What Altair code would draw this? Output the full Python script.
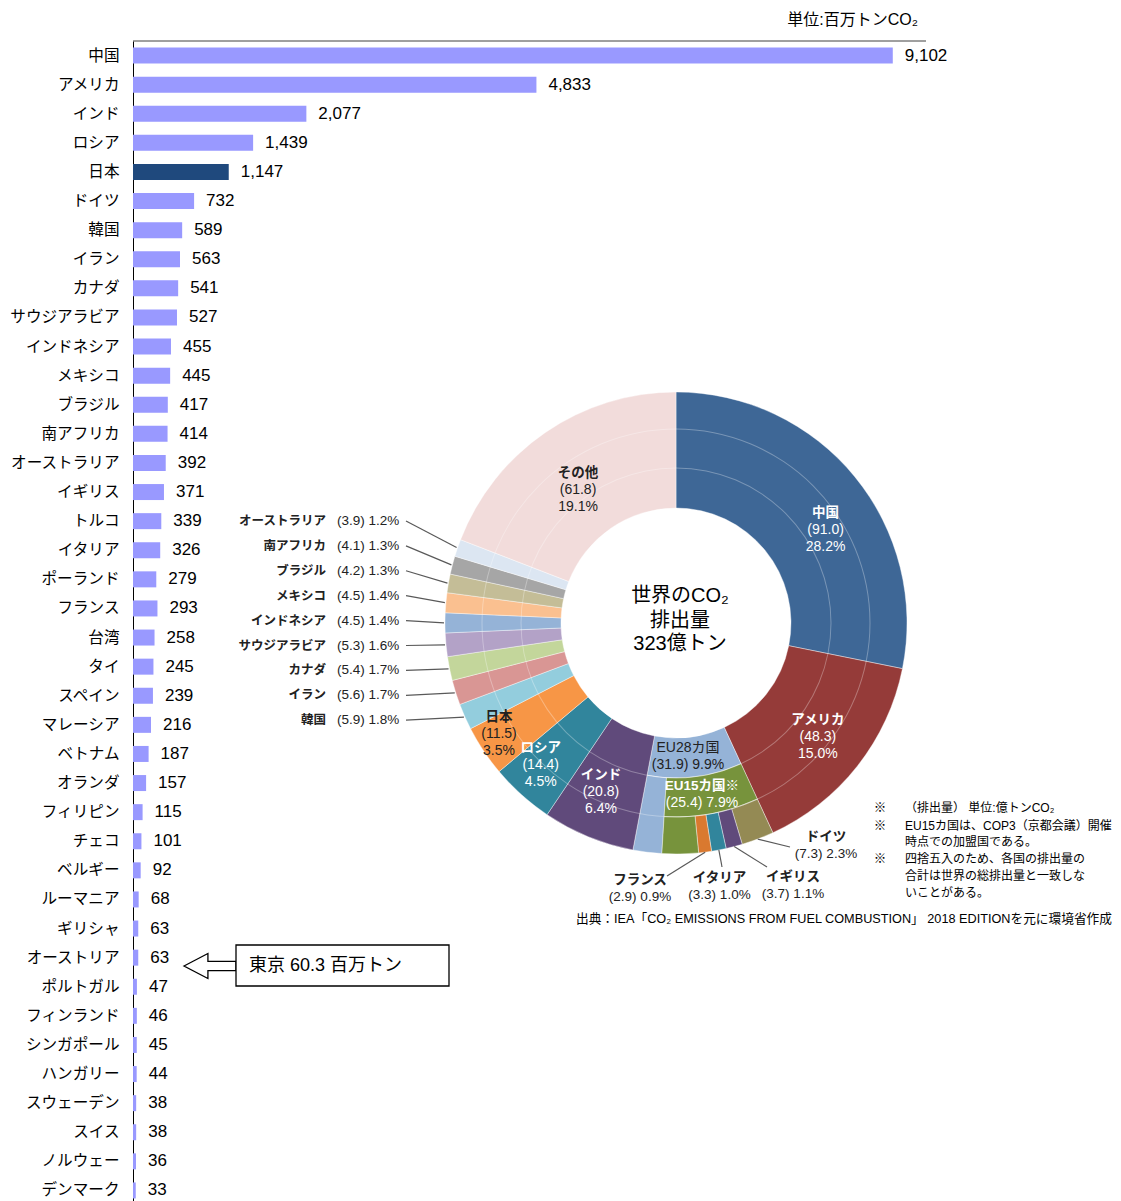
import math
import altair as alt
import pandas as pd

# ---------------- data ----------------
countries = ["中国", "アメリカ", "インド", "ロシア", "日本", "ドイツ", "韓国", "イラン", "カナダ",
             "サウジアラビア", "インドネシア", "メキシコ", "ブラジル", "南アフリカ", "オーストラリア",
             "イギリス", "トルコ", "イタリア", "ポーランド", "フランス", "台湾", "タイ", "スペイン",
             "マレーシア", "ベトナム", "オランダ", "フィリピン", "チェコ", "ベルギー", "ルーマニア",
             "ギリシャ", "オーストリア", "ポルトガル", "フィンランド", "シンガポール", "ハンガリー",
             "スウェーデン", "スイス", "ノルウェー", "デンマーク"]
emissions = [9102, 4833, 2077, 1439, 1147, 732, 589, 563, 541, 527, 455, 445, 417, 414, 392,
             371, 339, 326, 279, 293, 258, 245, 239, 216, 187, 157, 115, 101, 92, 68,
             63, 63, 47, 46, 45, 44, 38, 38, 36, 33]

donut_names = ["中国", "アメリカ", "EU28カ国", "インド", "ロシア", "日本", "韓国", "イラン", "カナダ",
               "サウジアラビア", "インドネシア", "メキシコ", "ブラジル", "南アフリカ", "オーストラリア", "その他"]
donut_values = [91.0, 48.3, 31.9, 20.8, 14.4, 11.5, 5.9, 5.6, 5.4, 5.3, 4.5, 4.5, 4.2, 4.1, 3.9, 61.8]
donut_pcts = [28.2, 15.0, 9.9, 6.4, 4.5, 3.5, 1.8, 1.7, 1.7, 1.6, 1.4, 1.4, 1.3, 1.3, 1.2, 19.1]
eu15_value = 25.4
eu15_pct = 7.9
eu_members = ["ドイツ", "イギリス", "イタリア", "フランス"]
eu_member_values = [7.3, 3.7, 3.3, 2.9]
eu_member_pcts = [2.3, 1.1, 1.0, 0.9]

# ---------------- styles / layout ----------------
FONT = "Liberation Sans, Noto Sans CJK JP, sans-serif"
BAR = "#9999ff"
BAR_JP = "#1f497d"
COL = {"中国": "#3e6796", "アメリカ": "#953b39", "EU28カ国": "#95b3d7", "インド": "#604a7b",
       "ロシア": "#31859c", "日本": "#f79646", "韓国": "#93cddd", "イラン": "#d99694",
       "カナダ": "#c3d69b", "サウジアラビア": "#b3a2c7", "インドネシア": "#95b3d7",
       "メキシコ": "#fac090", "ブラジル": "#c4bd97", "南アフリカ": "#a6a6a6",
       "オーストラリア": "#dce6f2", "その他": "#f2dcdb", "EU15": "#77933c",
       "ドイツ": "#948a54", "イギリス": "#604a7b", "イタリア": "#31859c", "フランス": "#d9792f"}
DARK = "#222222"
W, H = 793, 1164
CX, CY = 543, 582
R_IN, R_M1, R_M2, R_OUT = 115, 155, 194, 231

# inside label placement: (radius, angle offset in degrees)
inside_layout = {"中国": (176, 7.5), "アメリカ": (182, 0.5), "EU28カ国": (134, 1.9),
                 "インド": (185, 1.6), "ロシア": (196, 1.7), "日本": (209, 1.5), "その他": (165, -2.0)}
eu15_layout = (173, 2.0)
inside_white = {"中国", "アメリカ", "インド", "ロシア"}
small_label_top, small_label_step = 480, 24.9
small_name_x, small_num_x, leader_x0 = 193, 204, 273
eu_label_x = [693, 660, 586.5, 507]
eu_label_y = [796, 836, 837, 839]
eu_leader_end = [(657, 806), (634, 826), (589, 826), (534, 835)]

total = sum(donut_values)


def rad(v):
    return v / total * 2 * math.pi


def polar(theta, r):
    return CX + r * math.sin(theta), CY - r * math.cos(theta)


starts = []
acc = 0.0
for v in donut_values:
    starts.append(acc)
    acc += v

segs = []


def seg(t0, t1, r0, r1, color):
    segs.append(dict(t0=t0, t1=t1, r0=r0, r1=r1, color=color))


eu15_mid = None
member_mids = []
for name, v, s in zip(donut_names, donut_values, starts):
    t0, t1 = rad(s), rad(s + v)
    if name == "EU28カ国":
        e15_end = rad(s + eu15_value)
        seg(t0, t1, R_IN, R_M1, COL[name])
        seg(e15_end, t1, R_M1, R_OUT, COL[name])
        seg(t0, e15_end, R_M1, R_M2, COL["EU15"])
        a = s
        for m, mv in zip(eu_members, eu_member_values):
            seg(rad(a), rad(a + mv), R_M2, R_OUT, COL[m])
            member_mids.append(rad(a + mv / 2))
            a += mv
        seg(rad(a), e15_end, R_M2, R_OUT, COL["EU15"])
        eu15_mid = rad(s + eu15_value / 2)
    else:
        seg(t0, t1, R_IN, R_OUT, COL[name])
seg_df = pd.DataFrame(segs)

rings_df = pd.DataFrame({"t0": [0, 0], "t1": [2 * math.pi] * 2, "r0": [R_M1 - 0.5, R_M2 - 0.5],
                         "r1": [R_M1 + 0.5, R_M2 + 0.5]})

# text rows
txt = []


def add_lines(x, y, lines, bold_first, color, size_step=17):
    n = len(lines)
    for i, line in enumerate(lines):
        txt.append(dict(x=x, y=y + (i - (n - 1) / 2) * size_step, text=line,
                        bold=(i == 0 and bold_first), color=color))


for name, v, p, s in zip(donut_names, donut_values, donut_pcts, starts):
    if name in inside_layout:
        r, off = inside_layout[name]
        x, y = polar(rad(s + v / 2) + math.radians(off), r)
        color = "#ffffff" if name in inside_white else DARK
        if name == "EU28カ国":
            add_lines(x, y, [name, f"({v:.1f}) {p:.1f}%"], False, color)
        else:
            add_lines(x, y, [name, f"({v:.1f})", f"{p:.1f}%"], True, color)
x, y = polar(eu15_mid + math.radians(eu15_layout[1]), eu15_layout[0])
add_lines(x, y, ["EU15カ国※", f"({eu15_value:.1f}) {eu15_pct:.1f}%"], True, "#ffffff")
inside_df = pd.DataFrame(txt)

# small outside labels
small_names, small_nums, leaders = [], [], []
small_idx = [i for i, n in enumerate(donut_names) if n not in inside_layout]
for k, i in enumerate(reversed(small_idx)):
    yy = small_label_top + k * small_label_step
    small_names.append(dict(x=small_name_x, y=yy, text=donut_names[i]))
    small_nums.append(dict(x=small_num_x, y=yy, text=f"({donut_values[i]:.1f}) {donut_pcts[i]:.1f}%"))
    ex, ey = polar(rad(starts[i] + donut_values[i] / 2), R_OUT + 1)
    leaders.append(dict(x0=leader_x0, y0=yy, x1=ex, y1=ey))
for k, m in enumerate(eu_members):
    small_names.append(dict(x=eu_label_x[k], y=eu_label_y[k], text=m))
    small_nums.append(dict(x=eu_label_x[k], y=eu_label_y[k] + 17,
                           text=f"({eu_member_values[k]:.1f}) {eu_member_pcts[k]:.1f}%"))
    sx, sy = polar(member_mids[k], R_OUT)
    leaders.append(dict(x0=sx, y0=sy, x1=eu_leader_end[k][0], y1=eu_leader_end[k][1]))
small_names_df = pd.DataFrame(small_names)
small_nums_df = pd.DataFrame(small_nums)
leaders_df = pd.DataFrame(leaders)

bars_df = pd.DataFrame({"country": countries, "v": emissions})
one = pd.DataFrame({"a": [0]})

# ---------------- chart ----------------
yenc = alt.Y("country:N", sort=countries,
             scale=alt.Scale(paddingInner=0.45, paddingOuter=0.225),
             axis=alt.Axis(title="", ticks=False, labelPadding=14, labelFontSize=15.6,
                           labelColor="black", domainColor="black", domainWidth=1,
                           labelLimit=300, labelFont=FONT))
xenc = alt.X("v:Q", scale=alt.Scale(domain=[0, 9500]), axis=None)

bars = alt.Chart(bars_df).mark_bar().encode(
    x=xenc, y=yenc,
    color=alt.condition(alt.datum.country == "日本", alt.value(BAR_JP), alt.value(BAR)))
bar_text = alt.Chart(bars_df).mark_text(align="left", baseline="middle", dx=12, fontSize=17,
                                        font=FONT, color="black").encode(
    x=xenc, y=alt.Y("country:N", sort=countries), text=alt.Text("v:Q", format=","))
top_rule = alt.Chart(one).mark_rule(color="#404040", strokeWidth=1).encode(
    x=alt.value(0), x2=alt.value(W), y=alt.value(0))

arcs = alt.Chart(seg_df).mark_arc(stroke="white", strokeWidth=0.4).encode(
    x=alt.value(CX), y=alt.value(CY),
    theta=alt.Theta("t0:Q", scale=None), theta2=alt.Theta2("t1:Q"),
    radius=alt.Radius("r0:Q", scale=None), radius2=alt.Radius2("r1:Q"),
    color=alt.Color("color:N", scale=None))
rings = alt.Chart(rings_df).mark_arc(color="white", opacity=0.3).encode(
    x=alt.value(CX), y=alt.value(CY),
    theta=alt.Theta("t0:Q", scale=None), theta2=alt.Theta2("t1:Q"),
    radius=alt.Radius("r0:Q", scale=None), radius2=alt.Radius2("r1:Q"))

leader_lines = alt.Chart(leaders_df).mark_rule(color="#595959", strokeWidth=1.2).encode(
    x=alt.X("x0:Q", scale=None), y=alt.Y("y0:Q", scale=None),
    x2=alt.X2("x1:Q"), y2=alt.Y2("y1:Q"))


def pos_text(df, **kw):
    return alt.Chart(df).mark_text(font=FONT, baseline="middle", **kw).encode(
        x=alt.X("x:Q", scale=None), y=alt.Y("y:Q", scale=None), text="text:N")


inside_bold = pos_text(inside_df[inside_df.bold], fontSize=13.5, fontWeight="bold").encode(
    color=alt.Color("color:N", scale=None))
inside_norm = pos_text(inside_df[~inside_df.bold], fontSize=14).encode(
    color=alt.Color("color:N", scale=None))

n_small = len(small_idx)
sn_left = pos_text(small_names_df.iloc[:n_small], fontSize=12.5, fontWeight="bold",
                   align="right", color=DARK)
sv_left = pos_text(small_nums_df.iloc[:n_small], fontSize=13.5, align="left", color=DARK)
sn_eu = pos_text(small_names_df.iloc[n_small:], fontSize=13.5, fontWeight="bold",
                 align="center", color=DARK)
sv_eu = pos_text(small_nums_df.iloc[n_small:], fontSize=13.5, align="center", color=DARK)

center_df = pd.DataFrame({"x": [547, 547, 547], "y": [555, 580, 603],
                          "text": ["世界のCO₂", "排出量", "323億トン"]})
center_text = pos_text(center_df, fontSize=20, align="center", color="black")

unit_df = pd.DataFrame({"x": [785], "y": [-21], "text": ["単位:百万トンCO₂"]})
unit_text = pos_text(unit_df, fontSize=16, align="right", color="black")

note_lines = ["（排出量） 単位:億トンCO₂", "EU15カ国は、COP3（京都会議）開催", "時点での加盟国である。",
              "四捨五入のため、各国の排出量の", "合計は世界の総排出量と一致しな", "いことがある。"]
notes_df = pd.DataFrame({"x": [772] * 6, "y": [767, 785, 801, 818, 835, 852], "text": note_lines})
notes_text = pos_text(notes_df, fontSize=12, align="left", color="black")
marks_df = pd.DataFrame({"x": [747] * 3, "y": [767, 785, 818], "text": ["※"] * 3})
marks_text = pos_text(marks_df, fontSize=12.5, align="center", color="black")
src_df = pd.DataFrame({"x": [443], "y": [878],
                       "text": ["出典：IEA「CO₂ EMISSIONS FROM FUEL COMBUSTION」 2018 EDITIONを元に環境省作成"]})
src_text = pos_text(src_df, fontSize=12.7, align="left", color="black")

ARROW = "M -1 0 L -0.08 -0.48 L -0.08 -0.18 L 1 -0.18 L 1 0.18 L -0.08 0.18 L -0.08 0.48 Z"
arrow = alt.Chart(one).mark_point(shape=ARROW, size=2704, filled=True, fill="white",
                                  stroke="black", strokeWidth=1.3, opacity=1).encode(
    x=alt.value(77), y=alt.value(925))
box = alt.Chart(one).mark_rect(fill="white", stroke="black", strokeWidth=1.3).encode(
    x=alt.value(103), x2=alt.value(316), y=alt.value(904), y2=alt.value(945))
tokyo_df = pd.DataFrame({"x": [116], "y": [925], "text": ["東京  60.3 百万トン"]})
tokyo_text = pos_text(tokyo_df, fontSize=18, align="left", color="black")

chart = alt.layer(
    bars, bar_text, top_rule, arcs, rings, leader_lines, inside_bold, inside_norm,
    sn_left, sv_left, sn_eu, sv_eu, center_text, unit_text, notes_text, marks_text,
    src_text, arrow, box, tokyo_text
).properties(
    width=W, height=H,
    padding={"left": 125, "top": 33, "right": 187, "bottom": 5},
    autosize=alt.AutoSizeParams(type="none"),
).configure(font=FONT).configure_view(stroke="transparent", strokeWidth=0)

chart.save("out.html", embed_options={"renderer": "svg", "actions": False})
